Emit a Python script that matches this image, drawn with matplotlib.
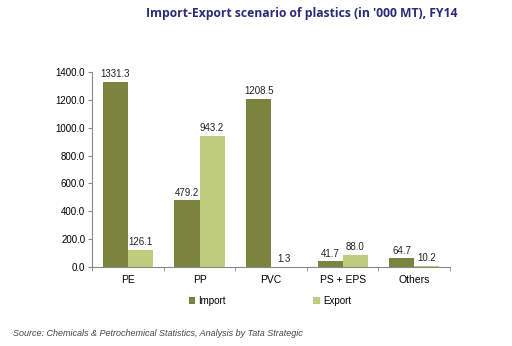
import matplotlib.pyplot as plt
import numpy as np

categories = ["PE", "PP", "PVC", "PS + EPS", "Others"]
imports = [1331.3, 479.2, 1208.5, 41.7, 64.7]
exports = [126.1, 943.2, 1.3, 88.0, 10.2]

plt.rcParams["font.family"] = ["Liberation Sans", "DejaVu Sans"]

fig = plt.figure(figsize=(5.12, 3.46), dpi=100)
ax = fig.add_axes([0.180, 0.228, 0.699, 0.564])

x = np.arange(len(categories))
w = 0.35
b1 = ax.bar(x - w / 2, imports, w, color="#7a843f", label="Import")
b2 = ax.bar(x + w / 2, exports, w, color="#bfcc7c", label="Export")

for bars, vals in [(b1, imports), (b2, exports)]:
    for r, v in zip(bars, vals):
        ax.text(r.get_x() + r.get_width() / 2, v + 18, f"{v:.1f}",
                ha="center", va="bottom", fontsize=7, color="#222222")

ax.set_xlim(-0.5, len(categories) - 0.5)
ax.set_ylim(0, 1400)
ax.set_yticks(np.arange(0, 1401, 200))
ax.set_yticklabels([f"{t:.1f}" for t in np.arange(0, 1401, 200)], fontsize=7)
ax.set_xticks(x)
ax.set_xticklabels(categories, fontsize=7.5)
ax.tick_params(axis="x", length=0, pad=6)
ax.set_xticks(np.arange(-0.5, len(categories)), minor=True)
ax.tick_params(axis="x", which="minor", length=3, color="#888888")
ax.tick_params(axis="y", length=3, color="#888888", pad=2)
for s in ["top", "right"]:
    ax.spines[s].set_visible(False)
for s in ["left", "bottom"]:
    ax.spines[s].set_color("#888888")
    ax.spines[s].set_linewidth(0.8)

fig.text(0.59, 0.962, "Import-Export scenario of plastics (in '000 MT), FY14",
         ha="center", va="center", fontsize=8.7, fontweight="bold",
         color="#2b2a78", family=["Open Sans", "DejaVu Sans"])

fig.legend(loc="center", bbox_to_anchor=(0.527, 0.13), ncol=2, frameon=False,
           fontsize=7, handlelength=0.7, handleheight=0.7, handletextpad=0.3,
           columnspacing=9)

fig.text(0.025, 0.037, "Source: Chemicals & Petrochemical Statistics, Analysis by Tata Strategic",
         fontsize=6.5, style="italic", color="#444444", va="center")

fig.savefig("out.png", dpi=100)
